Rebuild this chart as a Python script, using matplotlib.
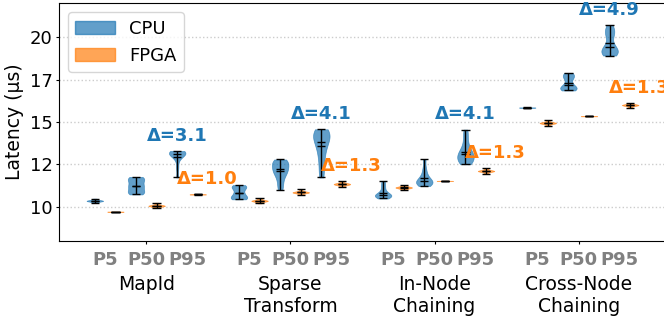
import matplotlib
matplotlib.use("Agg")
import matplotlib.pyplot as plt
from matplotlib.ticker import FormatStrFormatter

# groups on the x axis
groups = ["MapId", "Sparse\nTransform", "In-Node\nChaining", "Cross-Node\nChaining"]
pct_labels = ["P5", "P50", "P95"]

# latency samples (us), one list per group
cpu_p5 = [
    [10.22, 10.28, 10.31, 10.33, 10.34, 10.35, 10.36, 10.37, 10.39, 10.42, 10.48],
    [10.44, 10.48, 10.52, 10.58, 10.70, 10.80, 10.95, 11.10, 11.18, 11.22, 11.28],
    [10.49, 10.55, 10.60, 10.64, 10.67, 10.69, 10.72, 10.78, 10.90, 11.10, 11.30, 11.51],
    [15.84, 15.85, 15.85, 15.86],
]
cpu_p50 = [
    [10.73, 10.80, 10.86, 10.95, 11.10, 11.22, 11.26, 11.40, 11.55, 11.64, 11.70, 11.76],
    [10.98, 11.30, 11.60, 11.85, 12.00, 12.10, 12.20, 12.30, 12.45, 12.55, 12.65, 12.72, 12.79],
    [11.22, 11.30, 11.36, 11.42, 11.46, 11.50, 11.55, 11.65, 11.80, 12.00, 12.30, 12.79],
    [16.86, 16.90, 16.95, 17.00, 17.05, 17.10, 17.25, 17.50, 17.65, 17.72, 17.80, 17.90],
]
cpu_p95 = [
    [11.73, 12.30, 12.75, 13.00, 13.08, 13.12, 13.15, 13.18, 13.20, 13.23, 13.26, 13.29],
    [11.73, 12.20, 12.70, 13.10, 13.40, 13.70, 13.85, 14.00, 14.15, 14.30, 14.42, 14.50, 14.57],
    [12.51, 12.60, 12.70, 12.80, 12.90, 13.00, 13.10, 13.18, 13.30, 13.50, 13.80, 14.20, 14.55],
    [18.92, 18.98, 19.05, 19.12, 19.20, 19.30, 19.40, 19.55, 20.00, 20.20, 20.35, 20.50, 20.73],
]
fpga_p5 = [
    [9.70, 9.71, 9.71, 9.72],
    [10.20, 10.28, 10.32, 10.34, 10.35, 10.36, 10.38, 10.42, 10.49],
    [10.98, 11.06, 11.10, 11.12, 11.14, 11.15, 11.17, 11.21, 11.28],
    [14.79, 14.87, 14.91, 14.93, 14.94, 14.95, 14.97, 15.01, 15.10],
]
fpga_p50 = [
    [9.94, 10.00, 10.04, 10.05, 10.06, 10.07, 10.09, 10.14, 10.24],
    [10.69, 10.78, 10.82, 10.84, 10.85, 10.86, 10.88, 10.92, 11.02],
    [11.52, 11.53, 11.53, 11.54],
    [15.33, 15.34, 15.34, 15.35],
]
fpga_p95 = [
    [10.72, 10.73, 10.73, 10.74],
    [11.18, 11.26, 11.30, 11.33, 11.34, 11.35, 11.37, 11.42, 11.53],
    [11.96, 12.04, 12.08, 12.10, 12.11, 12.12, 12.14, 12.18, 12.26],
    [15.85, 15.93, 15.97, 15.99, 16.00, 16.01, 16.03, 16.07, 16.12],
]

devices = [
    ("CPU", "tab:blue", [cpu_p5, cpu_p50, cpu_p95]),
    ("FPGA", "tab:orange", [fpga_p5, fpga_p50, fpga_p95]),
]

fig = plt.figure(figsize=(6.64, 3.2), dpi=100)
ax = fig.add_axes([59 / 664, 79.3 / 320, 607 / 664, 237.4 / 320])

handles = []
for d, (name, color, series) in enumerate(devices):
    for p, data in enumerate(series):
        pos = [7 * g + 2 * p + d for g in range(len(groups))]
        vp = ax.violinplot(data, positions=pos, widths=0.8, showmeans=True,
                           showmedians=True, bw_method=0.45)
        for b in vp["bodies"]:
            b.set_facecolor(color)
            b.set_edgecolor(color)
            b.set_linewidth(0.5)
            b.set_alpha(0.7)
        for key in ("cmaxes", "cmins", "cbars", "cmedians", "cmeans"):
            vp[key].set_color("black")
            vp[key].set_linewidth(1)
    handles.append(plt.Rectangle((0, 0), 1, 1, color=color, alpha=0.7, label=name))

# delta = max(P95) - min(P5)
for g in range(len(groups)):
    for d, (name, color, series) in enumerate(devices):
        top = max(series[2][g])
        delta = top - min(series[0][g])
        x = 7 * g + 4 + d + 0.45 * d
        ax.text(x, top + 0.9, "Δ=%.1f" % delta, color=color, fontsize=13,
                fontweight="bold", ha="center", va="center")

ax.set_xlim(-1.74, 27.74)
ax.set_ylim(8, 22)
ax.set_yticks([10, 12.5, 15, 17.5, 20])
ax.yaxis.set_major_formatter(FormatStrFormatter("%d"))
ax.yaxis.grid(True, linestyle=":", color="#cccccc", linewidth=1)
ax.set_axisbelow(True)
ax.tick_params(axis="y", labelsize=13, length=2.5, pad=2)
ax.set_ylabel("Latency (μs)", fontsize=13.5)

ax.set_xticks([7 * g + 2.5 for g in range(len(groups))])
ax.set_xticklabels(groups, fontsize=13.5)
ax.tick_params(axis="x", pad=22.5, length=2.5)

for g in range(len(groups)):
    for p, lab in enumerate(pct_labels):
        ax.text(7 * g + 2 * p + 0.5, -0.045, lab, transform=ax.get_xaxis_transform(),
                ha="center", va="top", fontsize=13, fontweight="bold", color="gray")

ax.legend(handles=handles, loc="upper left", fontsize=13, handlelength=2.2)

fig.savefig("out.png", dpi=100)
